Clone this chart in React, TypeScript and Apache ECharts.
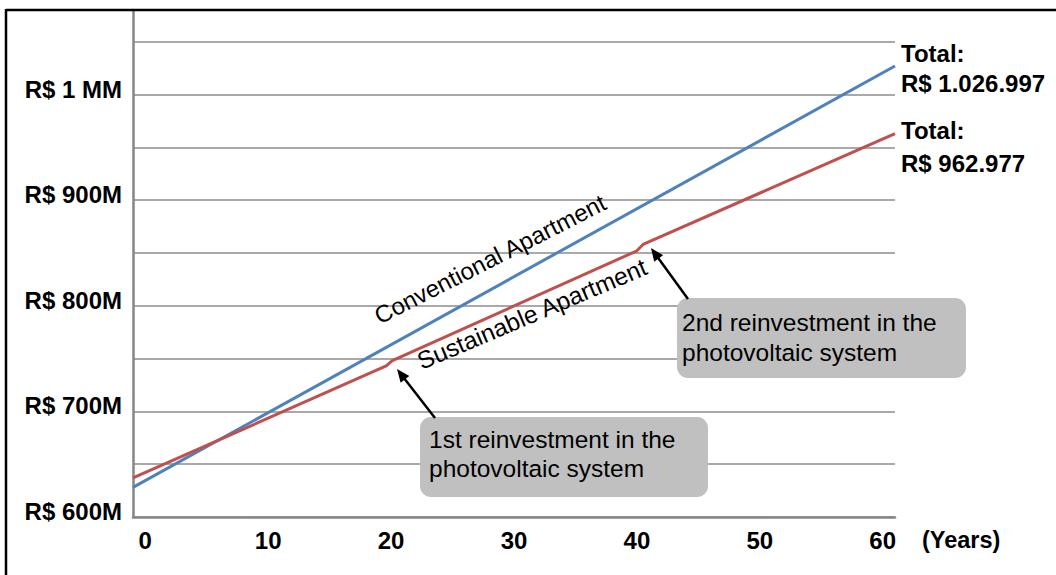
import React, { useEffect, useRef } from "react";
import * as echarts from "echarts";

// ---- data ----
const conventionalYears = [-1, 61];
const conventionalValues = [628, 1027];
const sustainableYears = [-1, 19.6, 20.1, 40.0, 40.5, 61];
const sustainableValues = [637, 743, 748, 852, 858, 963];

const xTickValues = [0, 10, 20, 30, 40, 50, 60];
const yTickValues = [600, 700, 800, 900, 1000];
const yTickLabels = ["R$ 600M", "R$ 700M", "R$ 800M", "R$ 900M", "R$ 1 MM"];

const seriesNames = ["Conventional Apartment", "Sustainable Apartment"];
const totalTitles = ["Total:", "Total:"];
const totalValues = ["R$ 1.026.997", "R$ 962.977"];
const noteTexts = [
  "1st reinvestment in the\nphotovoltaic system",
  "2nd reinvestment in the\nphotovoltaic system",
];
const xUnit = "(Years)";

const FONT = "'Liberation Sans', Arial, Helvetica, sans-serif";

function arrow(tail: number[], tip: number[]) {
  const dx = tip[0] - tail[0];
  const dy = tip[1] - tail[1];
  const len = Math.sqrt(dx * dx + dy * dy);
  const ux = dx / len;
  const uy = dy / len;
  const nx = -uy;
  const ny = ux;
  const hl = 13;
  const hw = 5.5;
  const bx = tip[0] - hl * ux;
  const by = tip[1] - hl * uy;
  return [
    {
      type: "line",
      shape: { x1: tail[0], y1: tail[1], x2: bx + ux * 2, y2: by + uy * 2 },
      style: { stroke: "#000", lineWidth: 2.5 },
      z: 20,
    },
    {
      type: "polygon",
      shape: {
        points: [
          [tip[0], tip[1]],
          [bx + hw * nx, by + hw * ny],
          [bx - hw * nx, by - hw * ny],
        ],
      },
      style: { fill: "#000" },
      z: 20,
    },
  ];
}

function boldText(x: number, y: number, text: string, size: number) {
  return {
    type: "text",
    x,
    y,
    style: {
      text,
      fontFamily: FONT,
      fontSize: size,
      fontWeight: "bold",
      fill: "#000",
      align: "left",
      verticalAlign: "middle",
    },
    z: 20,
  };
}

export default function App() {
  const ref = useRef<HTMLDivElement>(null);

  useEffect(() => {
    if (!ref.current) return;
    const chart = echarts.init(ref.current, null, { renderer: "svg" });

    const conv = conventionalYears.map((x, i) => [x, conventionalValues[i]]);
    const sust = sustainableYears.map((x, i) => [x, sustainableValues[i]]);

    const option: any = {
      animation: false,
      backgroundColor: "#ffffff",
      grid: { left: 133, right: 161, top: 10, bottom: 58, containLabel: false },
      xAxis: {
        type: "value",
        min: -1,
        max: 61,
        axisLine: { show: true, onZero: false, lineStyle: { color: "#868686", width: 2.5 } },
        axisTick: { show: false },
        splitLine: { show: false },
        axisLabel: {
          customValues: xTickValues,
          margin: 11,
          color: "#000",
          fontFamily: FONT,
          fontWeight: "bold",
          fontSize: 24,
        },
      },
      yAxis: {
        type: "value",
        min: 600,
        max: 1080,
        interval: 50,
        axisLine: { show: true, onZero: false, lineStyle: { color: "#868686", width: 2.5 } },
        axisTick: { show: false },
        splitLine: { show: true, lineStyle: { color: "#8c8c8c", width: 1.5 } },
        axisLabel: {
          customValues: yTickValues,
          formatter: (v: number) => {
            const i = yTickValues.indexOf(v);
            return i >= 0 ? yTickLabels[i] : "";
          },
          margin: 11,
          verticalAlign: "bottom",
          lineHeight: 11,
          color: "#000",
          fontFamily: FONT,
          fontWeight: "bold",
          fontSize: 24,
        },
      },
      series: [
        {
          name: seriesNames[0],
          type: "line",
          data: conv,
          showSymbol: false,
          symbol: "none",
          lineStyle: { color: "#4f81bd", width: 3 },
          z: 5,
        },
        {
          name: seriesNames[1],
          type: "line",
          data: sust,
          showSymbol: false,
          symbol: "none",
          lineStyle: { color: "#c0504d", width: 3 },
          z: 6,
        },
      ],
      graphic: [
        // outer frame
        {
          type: "line",
          shape: { x1: 6, y1: 10, x2: 1060, y2: 10 },
          style: { stroke: "#000", lineWidth: 2.5 },
          z: 30,
        },
        {
          type: "line",
          shape: { x1: 6, y1: 9, x2: 6, y2: 580 },
          style: { stroke: "#000", lineWidth: 2.5 },
          z: 30,
        },
        // series labels on lines
        {
          type: "text",
          x: 490,
          y: 259,
          rotation: (27 * Math.PI) / 180,
          style: {
            text: seriesNames[0],
            fontFamily: FONT,
            fontSize: 24,
            fill: "#000",
            align: "center",
            verticalAlign: "middle",
          },
          z: 20,
        },
        {
          type: "text",
          x: 532,
          y: 314,
          rotation: (23 * Math.PI) / 180,
          style: {
            text: seriesNames[1],
            fontFamily: FONT,
            fontSize: 24.5,
            fill: "#000",
            align: "center",
            verticalAlign: "middle",
          },
          z: 20,
        },
        // note boxes
        {
          type: "rect",
          shape: { x: 420, y: 417, width: 288, height: 80, r: 11 },
          style: { fill: "#c0c0c0" },
          z: 15,
        },
        {
          type: "text",
          x: 429,
          y: 453.5,
          style: {
            text: noteTexts[0],
            fontFamily: FONT,
            fontSize: 24.5,
            lineHeight: 29,
            fill: "#000",
            align: "left",
            verticalAlign: "middle",
          },
          z: 16,
        },
        {
          type: "rect",
          shape: { x: 677, y: 298, width: 289, height: 80, r: 11 },
          style: { fill: "#c0c0c0" },
          z: 15,
        },
        {
          type: "text",
          x: 682,
          y: 337,
          style: {
            text: noteTexts[1],
            fontFamily: FONT,
            fontSize: 24.5,
            lineHeight: 30,
            fill: "#000",
            align: "left",
            verticalAlign: "middle",
          },
          z: 16,
        },
        ...arrow([435, 418], [397, 369]),
        ...arrow([688, 299], [651, 248]),
        // totals
        boldText(901, 53, totalTitles[0], 24),
        boldText(901, 83, totalValues[0], 24),
        boldText(901, 130, totalTitles[1], 24),
        boldText(901, 163, totalValues[1], 24),
        boldText(922, 540, xUnit, 23.5),
      ],
    };

    chart.setOption(option);
    return () => {
      chart.dispose();
    };
  }, []);

  return (
    <div
      ref={ref}
      style={{ position: "absolute", left: 0, top: 0, width: 1056, height: 575 }}
    />
  );
}
